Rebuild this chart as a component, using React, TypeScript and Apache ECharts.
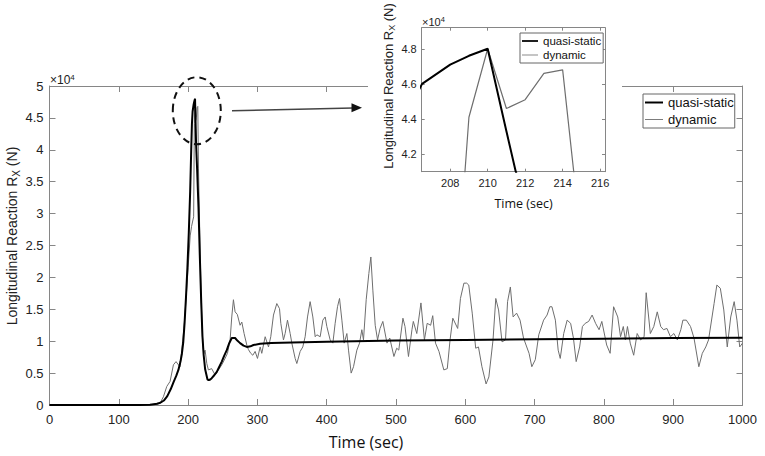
import React, { useEffect, useRef } from 'react';
import * as echarts from 'echarts';

// values in units of 10^4 N, time in sec
const quasiStatic: [number, number][] = [
  [0, 0], [100, 0], [130, 0], [145, 0.005], [155, 0.02], [160, 0.035], [165, 0.07], [170, 0.14],
  [175, 0.25], [179, 0.36], [183, 0.46], [186, 0.55], [189, 0.68], [191, 0.8], [193, 0.98],
  [195, 1.3], [197, 1.7], [199, 2.15], [201, 2.7], [203, 3.35], [204.5, 4.0], [205.5, 4.4],
  [206.5, 4.6], [208, 4.71], [209, 4.76], [210, 4.8], [211, 4.33], [211.5, 4.1], [213, 3.7],
  [215, 3.1], [217, 2.3], [219, 1.6], [220.7, 1.08], [222.5, 0.78], [224.6, 0.56], [228, 0.4],
  [230, 0.39], [232, 0.4], [234.1, 0.42], [238, 0.47], [241.4, 0.52], [245, 0.6], [248.6, 0.68],
  [252, 0.77], [255.8, 0.86], [259, 0.96], [263, 1.05], [267.8, 1.05], [271, 1.01], [275, 0.97],
  [280, 0.93], [284.7, 0.91], [290, 0.92], [294.3, 0.94], [304, 0.96], [320, 0.97], [350, 0.98],
  [400, 0.99], [500, 1.01], [600, 1.02], [700, 1.03], [800, 1.04], [900, 1.05], [1000, 1.055],
];

const dynamic: [number, number][] = [
  [0, 0], [100, 0], [150, 0], [155, 0.01], [159.6, 0.03], [164.4, 0.13], [169.2, 0.29], [174, 0.37],
  [178.8, 0.63], [182.6, 0.68], [186, 0.63], [188.4, 0.6], [190.8, 0.86], [194, 1.2], [197, 1.65],
  [200, 2.15], [203, 2.65], [205, 2.8], [207, 2.9], [208, 2.95], [209, 4.41], [210, 4.8], [211, 4.46],
  [212, 4.51], [213, 4.66], [214, 4.68], [215, 3.7], [217, 2.6], [219, 1.6], [221, 1.0], [222.5, 0.8],
  [224.5, 0.86], [227, 0.65], [229.3, 0.55], [234, 0.57], [239, 0.47], [243.8, 0.55], [248.6, 0.63],
  [252, 0.7], [256.8, 0.81], [260.6, 1.02], [263, 1.38], [265.4, 1.65], [267.8, 1.46], [271, 1.42],
  [275, 1.25], [277.5, 1.3], [280.8, 1.12], [284.7, 0.94], [287, 0.87], [290.4, 0.81], [293.4, 0.78],
  [296.7, 0.84], [300.1, 0.73], [304, 0.91], [306.3, 0.81], [311.2, 1.07], [316, 0.91], [319.3, 1.07],
  [323.2, 1.41], [328, 1.59], [331.9, 1.51], [333.8, 1.28], [337.6, 1.02], [340, 1.12], [343.4, 1.33],
  [347.3, 1.12], [349.7, 0.97], [354.5, 0.73], [356.9, 0.65], [361.7, 0.84], [365.5, 0.91], [368.9, 1.07],
  [372.3, 1.38], [376.1, 1.62], [380, 1.38], [383.4, 1.07], [385.8, 1.1], [390.6, 1.07], [394.4, 1.33],
  [397.8, 1.38], [400.2, 1.23], [405, 1.02], [408.9, 0.97], [412.2, 1.28], [415.6, 1.54], [418.5, 1.67],
  [421.9, 1.33], [425.2, 0.97], [429.1, 1.12], [431.5, 0.86], [435.3, 0.5], [438.7, 0.6], [443.5, 0.86],
  [447.4, 0.97], [450.7, 1.18], [453.1, 1.02], [457, 1.65], [460.8, 2.06], [463.7, 2.32], [466.6, 1.8],
  [470, 1.25], [473.4, 1.02], [477, 1.2], [481, 1.31], [487, 0.97], [491, 1.05], [497, 0.76], [501, 0.89],
  [504, 0.86], [510, 1.36], [513, 1.23], [518, 0.76], [523, 1.18], [525, 1.31], [530, 1.12], [536, 1.6],
  [541, 1.02], [545, 1.28], [550, 1.25], [553, 1.4], [557, 0.97], [562, 0.84], [569, 0.55], [574, 0.57],
  [578, 1.02], [582, 1.36], [589, 1.2], [593, 1.67], [598, 1.91], [602, 1.91], [605, 1.88], [610, 1.44],
  [615, 0.89], [619, 0.91], [624, 0.6], [630, 0.33], [634, 0.44], [640, 1.02], [644, 1.67], [648, 1.49],
  [653, 0.99], [658, 1.02], [661, 1.62], [665, 1.85], [669, 1.38], [674, 1.44], [679, 1.33], [684, 1.05],
  [692, 0.81], [696, 0.6], [701, 0.71], [706, 1.1], [713, 1.33], [718, 1.41], [722, 1.54], [725, 1.54],
  [730, 1.33], [734, 0.86], [737, 0.73], [742, 1.12], [747, 1.33], [752, 1.28], [756, 1.05], [760, 0.68],
  [765, 0.91], [769, 1.23], [773, 1.28], [778, 1.31], [783, 1.41], [788, 1.28], [793, 1.18], [797, 1.31],
  [804, 0.94], [809, 0.81], [814, 1.54], [820, 1.38], [824, 1.07], [828, 1.23], [831, 1.02], [834, 1.23],
  [838, 0.97], [843, 0.78], [848, 1.12], [853, 1.02], [858, 1.07], [861, 1.76], [867, 1.12], [872, 1.23],
  [877, 1.46], [882, 1.23], [886, 1.18], [891, 1.2], [896, 1.07], [901, 1.12], [906, 1.02], [911, 1.18],
  [914, 1.33], [919, 1.33], [925, 1.23], [930, 1.05], [937, 0.6], [942, 0.81], [947, 0.91], [951, 1.02],
  [959, 1.59], [963, 1.88], [968, 1.83], [973, 1.49], [978, 0.91], [983, 1.38], [988, 1.62], [992, 1.33],
  [996, 0.91], [1000, 0.97],
];

const seriesNames = ['quasi-static', 'dynamic'];
const mainXRange = [0, 1000];
const mainYRange = [0, 5];
const insetXRange = [206.48, 216.26];
const insetYRange = [4.1, 4.92];
const insetXTicks = [208, 210, 212, 214, 216];
const insetYTicks = [4.2, 4.4, 4.6, 4.8];

const FONT = 'Liberation Sans, Arial, sans-serif';
const AXIS_COLOR = '#868686';
const TEXT_COLOR = '#222';
const DYN_COLOR = '#6e6e6e';
const QS_ICON = 'path://M0,0H20V2.2H0Z';
const DYN_ICON = 'path://M0,0H20V1H0Z';

export default function App() {
  const ref = useRef<HTMLDivElement>(null);

  useEffect(() => {
    if (!ref.current) return;
    const chart = echarts.init(ref.current, undefined, { renderer: 'svg' });

    const axisBase = (extra: any) => ({
      type: 'value',
      axisLine: { show: true, onZero: false, lineStyle: { color: AXIS_COLOR, width: 1 } },
      splitLine: { show: false },
      ...extra,
    });

    const mainX = (position: string, showLabel: boolean) =>
      axisBase({
        gridIndex: 0,
        position,
        min: mainXRange[0],
        max: mainXRange[1],
        interval: 100,
        axisTick: { show: true, inside: true, length: 6, lineStyle: { color: AXIS_COLOR } },
        axisLabel: {
          show: showLabel,
          fontSize: 13,
          color: TEXT_COLOR,
          fontFamily: FONT,
          margin: 8,
          formatter: (v: number) => String(v),
        },
        z: 0,
      });
    const mainY = (position: string, showLabel: boolean) =>
      axisBase({
        gridIndex: 0,
        position,
        min: mainYRange[0],
        max: mainYRange[1],
        interval: 0.5,
        axisTick: { show: true, inside: true, length: 6, lineStyle: { color: AXIS_COLOR } },
        axisLabel: { show: showLabel, fontSize: 13, color: TEXT_COLOR, fontFamily: FONT, margin: 6 },
        z: 0,
      });
    const insetX = (position: string, showLabel: boolean) =>
      axisBase({
        gridIndex: 1,
        position,
        min: insetXRange[0],
        max: insetXRange[1],
        axisTick: { show: true, inside: true, length: 3, customValues: insetXTicks, lineStyle: { color: AXIS_COLOR } },
        axisLabel: { show: showLabel, customValues: insetXTicks, fontSize: 11, color: TEXT_COLOR, fontFamily: FONT, margin: 6 },
        z: 11,
      });
    const insetY = (position: string, showLabel: boolean) =>
      axisBase({
        gridIndex: 1,
        position,
        min: insetYRange[0],
        max: insetYRange[1],
        axisTick: { show: true, inside: true, length: 3, customValues: insetYTicks, lineStyle: { color: AXIS_COLOR } },
        axisLabel: {
          show: showLabel,
          customValues: insetYTicks,
          fontSize: 11,
          color: TEXT_COLOR,
          fontFamily: FONT,
          margin: 5,
          formatter: (v: number) => v.toFixed(1),
        },
        z: 11,
      });

    const legendData = [
      { name: seriesNames[0], icon: QS_ICON },
      { name: seriesNames[1], icon: DYN_ICON },
    ];

    const option: any = {
      animation: false,
      backgroundColor: '#fff',
      grid: [
        { left: 49.5, right: 22.5, top: 86, bottom: 51, containLabel: false },
        { left: 421.7, top: 27.7, width: 183.3, height: 144, containLabel: false, z: 11 },
      ],
      xAxis: [mainX('bottom', true), mainX('top', false), insetX('bottom', true), insetX('top', false)],
      yAxis: [mainY('left', true), mainY('right', false), insetY('left', true), insetY('right', false)],
      legend: [
        {
          data: legendData,
          orient: 'vertical',
          left: 643,
          top: 94,
          itemWidth: 18,
          itemHeight: 14,
          itemGap: 4,
          symbolKeepAspect: true,
          padding: [2, 1, 2, 2],
          borderColor: '#666',
          borderWidth: 1,
          backgroundColor: '#fff',
          textStyle: { fontSize: 13, color: '#111', fontFamily: FONT },
          selectedMode: false,
          z: 20,
        },
        {
          data: legendData,
          orient: 'vertical',
          left: 520,
          top: 33,
          itemWidth: 16,
          itemHeight: 13,
          itemGap: 2,
          symbolKeepAspect: true,
          padding: [2, 2, 2, 2],
          borderColor: '#666',
          borderWidth: 1,
          backgroundColor: '#fff',
          textStyle: { fontSize: 11.5, color: '#111', fontFamily: FONT },
          selectedMode: false,
          z: 20,
        },
      ],
      series: [
        {
          name: seriesNames[1],
          type: 'line',
          xAxisIndex: 0,
          yAxisIndex: 0,
          data: dynamic,
          symbol: 'none',
          showSymbol: false,
          lineStyle: { color: DYN_COLOR, width: 1 },
          itemStyle: { color: DYN_COLOR },
          z: 2,
        },
        {
          name: seriesNames[0],
          type: 'line',
          xAxisIndex: 0,
          yAxisIndex: 0,
          data: quasiStatic,
          symbol: 'none',
          showSymbol: false,
          lineStyle: { color: '#000', width: 2 },
          itemStyle: { color: '#000' },
          z: 3,
        },
        {
          name: seriesNames[1],
          type: 'line',
          xAxisIndex: 2,
          yAxisIndex: 2,
          data: dynamic,
          symbol: 'none',
          showSymbol: false,
          clip: true,
          lineStyle: { color: DYN_COLOR, width: 1.2 },
          itemStyle: { color: DYN_COLOR },
          z: 12,
        },
        {
          name: seriesNames[0],
          type: 'line',
          xAxisIndex: 2,
          yAxisIndex: 2,
          data: quasiStatic,
          symbol: 'none',
          showSymbol: false,
          clip: true,
          lineStyle: { color: '#000', width: 2 },
          itemStyle: { color: '#000' },
          z: 13,
        },
      ],
      graphic: [
        { type: 'rect', shape: { x: 368, y: 0, width: 254, height: 215 }, style: { fill: '#fff' }, z: 10, silent: true },
        {
          type: 'text',
          x: 12,
          y: 236,
          rotation: Math.PI / 2,
          z: 5,
          style: {
            text: '{a|Longitudinal Reaction R}{b|X}{a| (N)}',
            align: 'center',
            verticalAlign: 'middle',
            fill: TEXT_COLOR,
            fontFamily: FONT,
            rich: {
              a: { fontSize: 14, lineHeight: 18, fontFamily: FONT, fill: TEXT_COLOR },
              b: { fontSize: 10, lineHeight: 10, verticalAlign: 'bottom', fontFamily: FONT, fill: TEXT_COLOR },
            },
          },
        },
        {
          type: 'text',
          x: 366,
          y: 442,
          z: 5,
          style: {
            text: 'Time (sec)',
            align: 'center',
            verticalAlign: 'middle',
            fontSize: 16,
            fontFamily: 'Open Sans, sans-serif',
            fill: '#111',
          },
        },
        {
          type: 'text',
          x: 50,
          y: 80,
          z: 5,
          style: {
            text: '{a|×10}{s|4}',
            align: 'left',
            verticalAlign: 'middle',
            fill: TEXT_COLOR,
            rich: {
              a: { fontSize: 12, lineHeight: 14, fontFamily: FONT, fill: TEXT_COLOR },
              s: { fontSize: 8, lineHeight: 8, verticalAlign: 'top', fontFamily: FONT, fill: TEXT_COLOR },
            },
          },
        },
        {
          type: 'text',
          x: 388,
          y: 86,
          rotation: Math.PI / 2,
          z: 14,
          style: {
            text: '{a|Longitudinal Reaction R}{b|X}{a| (N)}',
            align: 'center',
            verticalAlign: 'middle',
            fill: TEXT_COLOR,
            rich: {
              a: { fontSize: 13, lineHeight: 17, fontFamily: FONT, fill: TEXT_COLOR },
              b: { fontSize: 9, lineHeight: 9, verticalAlign: 'bottom', fontFamily: FONT, fill: TEXT_COLOR },
            },
          },
        },
        {
          type: 'text',
          x: 523.5,
          y: 203,
          z: 14,
          style: {
            text: 'Time (sec)',
            align: 'center',
            verticalAlign: 'middle',
            fontSize: 12.5,
            fontFamily: 'Open Sans, sans-serif',
            fill: '#111',
          },
        },
        {
          type: 'text',
          x: 422,
          y: 22,
          z: 14,
          style: {
            text: '{a|×10}{s|4}',
            align: 'left',
            verticalAlign: 'middle',
            fill: TEXT_COLOR,
            rich: {
              a: { fontSize: 11, lineHeight: 13, fontFamily: FONT, fill: TEXT_COLOR },
              s: { fontSize: 7.5, lineHeight: 7.5, verticalAlign: 'top', fontFamily: FONT, fill: TEXT_COLOR },
            },
          },
        },
        {
          type: 'ellipse',
          shape: { cx: 196.8, cy: 110.7, rx: 24, ry: 33.5 },
          z: 6,
          style: { fill: 'none', stroke: '#111', lineWidth: 2, lineDash: [7, 5] },
        },
        {
          type: 'line',
          shape: { x1: 232, y1: 110.8, x2: 353, y2: 107.9 },
          z: 6,
          style: { stroke: '#444', lineWidth: 1.5 },
        },
        {
          type: 'polygon',
          shape: { points: [[351.5, 103.3], [362, 107.7], [351.5, 112.3]] },
          z: 6,
          style: { fill: '#111' },
        },
      ],
    };

    chart.setOption(option);
    return () => chart.dispose();
  }, []);

  return (
    <div
      ref={ref}
      style={{ position: 'fixed', left: 0, top: 0, width: 765, height: 456, background: '#fff' }}
    />
  );
}
